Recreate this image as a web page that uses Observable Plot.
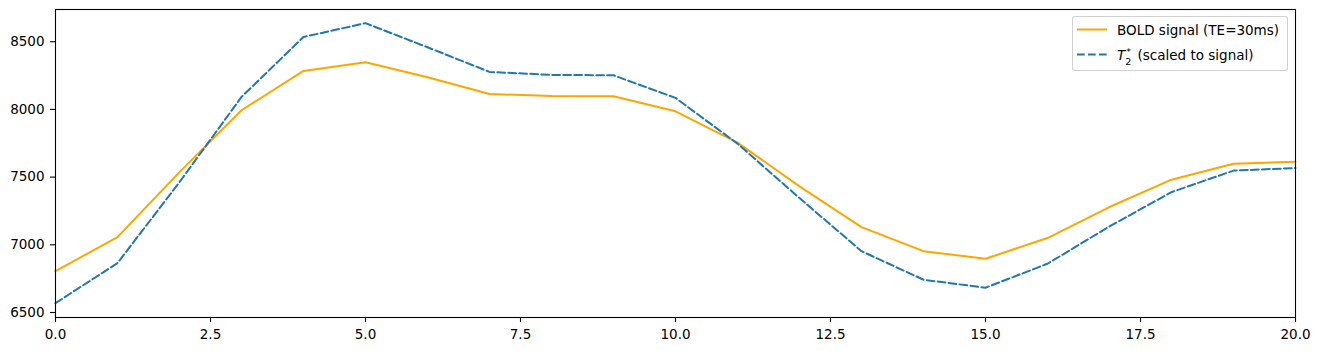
<!DOCTYPE html>
<html>
<head>
<meta charset="utf-8">
<script src="https://cdn.jsdelivr.net/npm/d3@7"></script>
<script src="https://cdn.jsdelivr.net/npm/@observablehq/plot@0.6"></script>
<style>
  body { margin: 0; background: white; font-family: "DejaVu Sans", sans-serif; }
  #wrap { position: relative; width: 1320px; height: 351px; }
  #legend { position: absolute; left: 1072px; top: 16px; width: 216px; height: 55px;
    border: 1px solid rgba(204,204,204,0.9); border-radius: 3px; background: rgba(255,255,255,0.8);
    font-size: 13.5px; color: black; box-sizing: border-box; }
  .row { position: absolute; left: 0; height: 20px; }
  .row svg { position: absolute; left: 3px; top: 0; }
  .lbl { position: absolute; left: 44px; top: 1px; white-space: nowrap; line-height: 18px; }
  .math { font-style: italic; }
  .ss { display: inline-block; position: relative; width: 8px; height: 10px; }
  .ss .sup { position: absolute; left: 1px; top: -7px; font-size: 9.5px; }
  .ss .sub { position: absolute; left: 0px; top: 3px; font-size: 9.5px; font-style: normal; }
</style>
</head>
<body>
<div id="wrap"></div>
<script>
const time = [0,1,2,3,4,5,6,7,8,9,10,11,12,13,14,15,16,17,18,19,20];
const boldSignal = [6805,7057,7537,7994,8284,8348,8238,8114,8099,8097,7986,7755,7432,7131,6953,6897,7050,7279,7481,7599,7614];
const t2Scaled = [6569,6865,7463,8092,8535,8637,8459,8277,8255,8252,8085,7747,7345,6953,6742,6683,6860,7136,7389,7548,7567];
const xTicks = [0,2.5,5,7.5,10,12.5,15,17.5,20];
const yTicks = [6500,7000,7500,8000,8500];
const seriesNames = ["BOLD signal (TE=30ms)", "T2* (scaled to signal)"];

const boldData = time.map((t,i) => ({t, v: boldSignal[i]}));
const t2Data = time.map((t,i) => ({t, v: t2Scaled[i]}));

const chart = Plot.plot({
  width: 1320, height: 351,
  marginLeft: 55, marginRight: 25, marginTop: 9, marginBottom: 34,
  style: { fontFamily: "DejaVu Sans", fontSize: "13.5px", color: "black", background: "white" },
  x: { domain: [0,20], label: null },
  y: { domain: [6463,8738], label: null },
  marks: [
    Plot.line(boldData, { x: "t", y: "v", stroke: "orange", strokeWidth: 2 }),
    Plot.line(t2Data, { x: "t", y: "v", stroke: "#1f77b4", strokeWidth: 2, strokeDasharray: "7.7,3.3" }),
    Plot.frame({ stroke: "black", strokeWidth: 1.1 }),
    Plot.axisX({ ticks: xTicks, tickFormat: d3.format(".1f"), tickSize: 5, tickPadding: 6.5, strokeWidth: 1.1, label: null }),
    Plot.axisY({ ticks: yTicks, tickFormat: d => String(d), tickSize: 5, tickPadding: 6, strokeWidth: 1.1, label: null })
  ]
});
const wrap = document.getElementById("wrap");
wrap.appendChild(chart);

const legend = document.createElement("div");
legend.id = "legend";
legend.innerHTML = `
  <div class="row" style="top:3px">
    <svg width="32" height="20"><line x1="1" x2="31" y1="9.5" y2="9.5" stroke="orange" stroke-width="2"/></svg>
    <span class="lbl">${seriesNames[0]}</span>
  </div>
  <div class="row" style="top:28px">
    <svg width="32" height="20"><line x1="1" x2="31" y1="9.5" y2="9.5" stroke="#1f77b4" stroke-width="2" stroke-dasharray="7.7,3.3"/></svg>
    <span class="lbl"><span class="math">T</span><span class="ss"><span class="sup">*</span><span class="sub">2</span></span> (scaled to signal)</span>
  </div>`;
wrap.appendChild(legend);
</script>
</body>
</html>
